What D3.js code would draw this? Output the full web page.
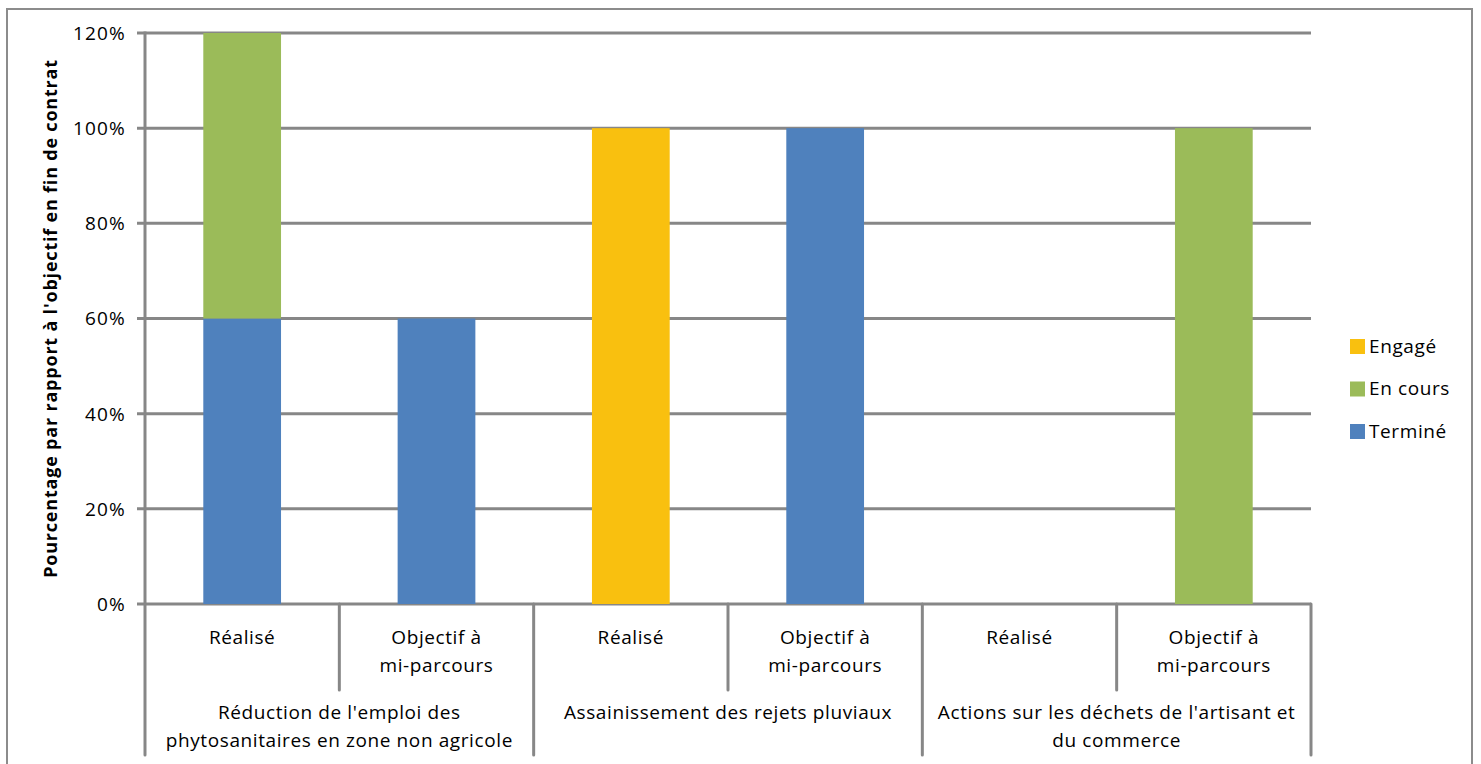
<!DOCTYPE html>
<html>
<head>
<meta charset="utf-8">
<script src="https://cdn.jsdelivr.net/npm/d3@7"></script>
<style>
  html, body { margin: 0; padding: 0; background: #fff; }
  svg { display: block; font-family: "Open Sans", Lato, sans-serif; }
</style>
</head>
<body>
<svg id="chart" width="1481" height="764"></svg>
<script>
// Groups of actions and the two bars shown for each
const groups = [
  ["Réduction de l'emploi des", "phytosanitaires en zone non agricole"],
  ["Assainissement des rejets pluviaux"],
  ["Actions sur les déchets de l'artisant  et", "du commerce"]
];
const subLabels = [["Réalisé"], ["Objectif à", "mi-parcours"]];

// One entry per bar (group index, sub index)
const barGroup = [0, 0, 1, 1, 2, 2];
const barSub   = [0, 1, 0, 1, 0, 1];

// Stacked series values (share of the end-of-contract target)
const termine = [0.6, 0.6, 0, 1.0, 0, 0];
const enCours = [0.6, 0,   0, 0,   0, 1.0];
const engage  = [0,   0,   1.0, 0, 0, 0];

const seriesNames = ["Terminé", "En cours", "Engagé"];
const seriesColors = ["#4F81BD", "#9BBB59", "#F9C00F"];
const yTicks = [0, 0.2, 0.4, 0.6, 0.8, 1.0, 1.2];

const svg = d3.select("#chart");
const plot = { left: 145, right: 1311, top: 33, bottom: 604 };
const grid = "#878787";
const FS = 19;
const LS = 0.6;

// Outer frame
svg.append("rect")
  .attr("x", 7).attr("y", 9).attr("width", 1465).attr("height", 800)
  .attr("fill", "none").attr("stroke", "#8c8c8c").attr("stroke-width", 2);

const x = d3.scaleBand()
  .domain(d3.range(barGroup.length))
  .range([plot.left, plot.right])
  .paddingInner(0.6).paddingOuter(0.3);
const step = x.step();

const y = d3.scaleLinear().domain([0, 1.2]).range([plot.bottom, plot.top]);

// Horizontal gridlines with outward ticks
svg.append("g").selectAll("line").data(yTicks).join("line")
  .attr("x1", plot.left - 8).attr("x2", plot.right)
  .attr("y1", d => y(d)).attr("y2", d => y(d))
  .attr("stroke", grid).attr("stroke-width", 3);

// Y tick labels
svg.append("g").selectAll("text").data(yTicks).join("text")
  .attr("x", 126).attr("y", d => y(d))
  .attr("dy", "0.36em")
  .attr("text-anchor", "end")
  .attr("font-size", FS).attr("letter-spacing", 1.2).attr("fill", "#000")
  .text(d => d3.format(".0%")(d));

// Stacked bars
const rows = d3.range(barGroup.length).map(i => ({
  i, "Terminé": termine[i], "En cours": enCours[i], "Engagé": engage[i]
}));
const stack = d3.stack().keys(seriesNames)(rows);
svg.append("g").selectAll("g").data(stack).join("g")
  .attr("fill", (d, k) => seriesColors[k])
  .selectAll("rect").data(d => d.filter(s => s[1] > s[0])).join("rect")
  .attr("x", d => x(d.data.i))
  .attr("width", x.bandwidth())
  .attr("y", d => y(d[1]))
  .attr("height", d => y(d[0]) - y(d[1]));

// Y axis line
svg.append("line")
  .attr("x1", plot.left).attr("x2", plot.left)
  .attr("y1", plot.top - 1.5).attr("y2", plot.bottom)
  .attr("stroke", grid).attr("stroke-width", 3);

// Category separators: short between bars, long between groups
const sepG = svg.append("g");
for (let k = 0; k <= barGroup.length; k++) {
  const xx = plot.left + k * step;
  const isGroupEdge = k % 2 === 0;
  sepG.append("line")
    .attr("x1", xx).attr("x2", xx)
    .attr("y1", plot.bottom).attr("y2", isGroupEdge ? 755 : 690)
    .attr("stroke", grid).attr("stroke-width", 3)
    .attr("stroke-linecap", "round");
}

// Bar labels
const subG = svg.append("g").attr("font-size", FS).attr("letter-spacing", LS).attr("text-anchor", "middle");
barSub.forEach((s, i) => {
  const t = subG.append("text")
    .attr("x", x(i) + x.bandwidth() / 2)
    .attr("y", 644);
  subLabels[s].forEach((line, j) => {
    t.append("tspan").attr("x", x(i) + x.bandwidth() / 2)
      .attr("dy", j === 0 ? 0 : 28).text(line);
  });
});

// Group labels
const grpG = svg.append("g").attr("font-size", FS).attr("letter-spacing", LS).attr("text-anchor", "middle");
groups.forEach((lines, g) => {
  const cx = plot.left + (2 * g + 1) * step;
  const t = grpG.append("text").attr("x", cx).attr("y", 719);
  lines.forEach((line, j) => {
    t.append("tspan").attr("x", cx).attr("dy", j === 0 ? 0 : 28).text(line);
  });
});

// Y axis title
svg.append("text")
  .attr("transform", `translate(57, ${(plot.top + plot.bottom) / 2}) rotate(-90)`)
  .attr("text-anchor", "middle")
  .attr("font-size", 18).attr("font-weight", "bold").attr("letter-spacing", 0.8)
  .text("Pourcentage par rapport à l'objectif  en fin de contrat");

// Legend (top to bottom: Engagé, En cours, Terminé)
const legendItems = seriesNames.map((n, k) => ({ n, c: seriesColors[k] })).reverse();
const lg = svg.append("g");
legendItems.forEach((d, k) => {
  const yy = 346 + k * 42.5;
  lg.append("rect").attr("x", 1350).attr("y", yy - 7).attr("width", 15).attr("height", 15).attr("fill", d.c);
  lg.append("text").attr("x", 1369).attr("y", yy).attr("dy", "0.36em")
    .attr("font-size", FS).attr("letter-spacing", LS).text(d.n);
});
</script>
</body>
</html>
